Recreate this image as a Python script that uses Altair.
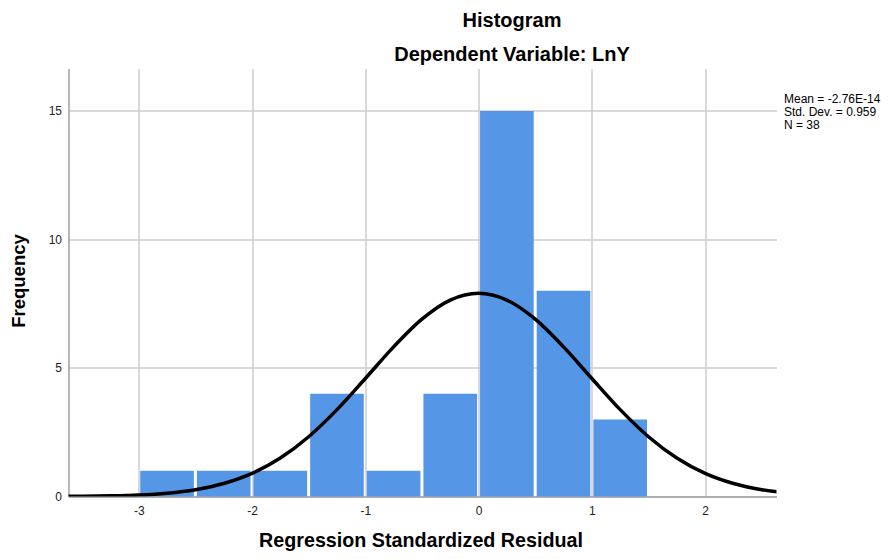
import altair as alt
import pandas as pd

# ---- data ----
bin_start = [-3.0, -2.5, -2.0, -1.5, -1.0, -0.5, 0.0, 0.5, 1.0]
bin_end = [-2.5, -2.0, -1.5, -1.0, -0.5, 0.0, 0.5, 1.0, 1.5]
frequency = [1, 1, 1, 4, 1, 4, 15, 8, 3]

curve_x = [-3.75, -3.5, -3.25, -3.0, -2.75, -2.5, -2.25, -2.0, -1.75, -1.5, -1.25, -1.0,
           -0.75, -0.5, -0.25, 0.0, 0.25, 0.5, 0.75, 1.0, 1.25, 1.5, 1.75, 2.0, 2.25,
           2.5, 2.75]
curve_y = [0.004, 0.010, 0.025, 0.059, 0.130, 0.265, 0.504, 0.898, 1.496, 2.326, 3.380,
           4.590, 5.822, 6.900, 7.641, 7.905, 7.641, 6.900, 5.822, 4.590, 3.380, 2.326,
           1.496, 0.898, 0.504, 0.265, 0.130]

title_lines = ["Histogram", "Dependent Variable: LnY"]
stats_lines = ["Mean = -2.76E-14", "Std. Dev. = 0.959", "N = 38"]
x_ticks = [-3, -2, -1, 0, 1, 2]
y_ticks = [0, 5, 10, 15]
x_title = "Regression Standardized Residual"
y_title = "Frequency"

bars_df = pd.DataFrame({"x": bin_start, "x2": bin_end, "y": frequency})
curve_df = pd.DataFrame({"x": curve_x, "y": curve_y})
one_df = pd.DataFrame({"k": [0]})

W, H = 708, 428
FONT = "Liberation Sans"

xscale = alt.Scale(domain=[-3.62, 2.63], nice=False, zero=False)
yscale = alt.Scale(domain=[0, 16.65], nice=False, zero=True)

x_axis = alt.Axis(
    values=x_ticks, title=x_title, grid=True, gridColor="#cccccc", gridWidth=1.5,
    domainColor="#a0a0a0", domainWidth=1.5, ticks=False, tickSize=0,
    labelPadding=9, labelFontSize=12, labelColor="#222222", labelFont=FONT,
    labelExpr="datum.value < 0 ? '-' + format(-datum.value, 'd') : format(datum.value, 'd')",
    titleFont=FONT, titleFontSize=19.7, titleFontWeight="bold", titleColor="#000000",
    titleX=352, titleY=50, titleBaseline="alphabetic", titleAlign="center",
)
y_axis = alt.Axis(
    values=y_ticks, title=y_title, grid=True, gridColor="#cccccc", gridWidth=1.5,
    domainColor="#a0a0a0", domainWidth=1.5, ticks=False, tickSize=0,
    labelPadding=7, labelFontSize=12, labelColor="#222222", labelFont=FONT,
    titleFont=FONT, titleFontSize=18.5, titleFontWeight="bold", titleColor="#000000",
    titleX=-44, titleY=212, titleAngle=-90, titleBaseline="alphabetic", titleAlign="center",
)

bars = alt.Chart(bars_df).mark_rect(
    color="#5596e6", xOffset=1.5, x2Offset=-1.5
).encode(
    x=alt.X("x:Q", scale=xscale, axis=x_axis),
    x2="x2:Q",
    y=alt.Y("y:Q", scale=yscale, axis=y_axis),
    y2=alt.datum(0),
)

curve = alt.Chart(curve_df).mark_line(
    color="black", strokeWidth=3.5, interpolate="monotone", clip=True
).encode(
    x=alt.X("x:Q", scale=xscale, axis=x_axis),
    y=alt.Y("y:Q", scale=yscale, axis=y_axis),
)

stats = alt.Chart(one_df).mark_text(
    text=stats_lines, align="left", baseline="alphabetic", font=FONT,
    fontSize=12, lineHeight=13, color="#000000"
).encode(x=alt.value(W + 7.5), y=alt.value(34.5))

title = alt.Chart(one_df).mark_text(
    text=title_lines, align="center", baseline="alphabetic", font=FONT,
    fontSize=20, fontWeight="bold", lineHeight=34.3, color="#000000"
).encode(x=alt.value(443.5), y=alt.value(-41.8))

chart = alt.layer(bars, curve, stats, title).properties(
    width=W, height=H,
    padding={"left": 60.5, "top": 60.5, "right": 107.5, "bottom": 54.5},
    autosize=alt.AutoSizeParams(type="none"),
    background="white",
).configure_view(stroke=None)

chart.save("out.html", embed_options={"renderer": "svg", "actions": False})
